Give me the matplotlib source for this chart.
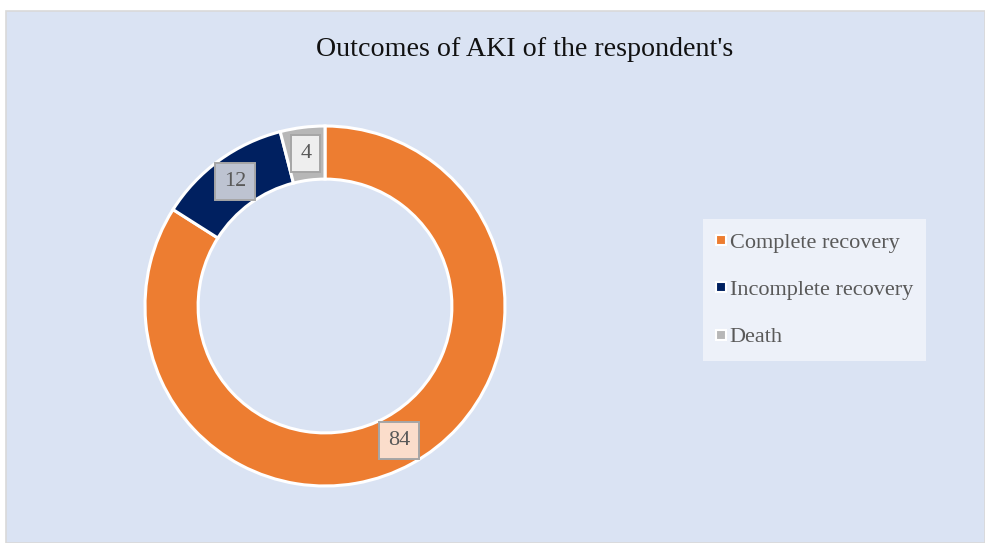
import matplotlib
matplotlib.use("Agg")
import numpy as np
import matplotlib.pyplot as plt
from matplotlib.patches import Rectangle
from matplotlib.lines import Line2D

title = "Outcomes of AKI of the respondent's"
categories = ["Complete recovery", "Incomplete recovery", "Death"]
values = [84, 12, 4]
colors = ["#ED7D31", "#002060", "#B7B7B7"]
label_faces = ["#FBDDCB", "#BDC3D1", "#EEEEEE"]

W, H = 985, 543
fig = plt.figure(figsize=(W / 100, H / 100), dpi=100)
fig.patch.set_facecolor("white")

# chart panel background
panel = Rectangle((6 / W, 0), 1 - 6 / W, (H - 11) / H, transform=fig.transFigure,
                  facecolor="#DAE3F3", edgecolor="#D9D9D9", linewidth=1.2, zorder=-5)
fig.patches.append(panel)

serif = ["Liberation Serif", "DejaVu Serif"]

fig.text(525 / W, 1 - 49 / H, title, ha="center", va="center",
         fontsize=20.2, family=serif, color="#111111")

# donut axes: centre (325, 306) px, outer radius 180 px
cx, cy, R = 325, 306, 180
box = 200
ax = fig.add_axes([(cx - box) / W, (H - cy - box) / H, 2 * box / W, 2 * box / H])
ax.axis("off")
ax.patch.set_alpha(0)

ring = 0.295
wedges, _ = ax.pie(values, colors=colors, startangle=90, counterclock=False,
                   radius=1.0,
                   wedgeprops=dict(width=ring, edgecolor="white", linewidth=2.2))
ax.set_xlim(-box / R, box / R)
ax.set_ylim(-box / R, box / R)

mid_r = 1.0 - ring / 2
for w, v, fc in zip(wedges, values, label_faces):
    ang = np.deg2rad((w.theta1 + w.theta2) / 2)
    ax.text(mid_r * np.cos(ang), mid_r * np.sin(ang), str(v), ha="center", va="center",
            fontsize=16, family=serif, color="#595959",
            bbox=dict(boxstyle="square,pad=0.4", facecolor=fc, edgecolor="#A6A6A6", linewidth=1.4))

handles = [Line2D([], [], linestyle="none", marker="s", markersize=7,
                  markerfacecolor=c, markeredgecolor="white", markeredgewidth=1.5)
           for c in colors]
leg = fig.legend(handles, categories, loc="upper left",
                 bbox_to_anchor=(703 / W, 1 - 219 / H), frameon=True,
                 prop=dict(family=serif, size=16), labelcolor="#595959",
                 handlelength=0.4, handletextpad=0.2, labelspacing=1.2,
                 borderpad=0.6, borderaxespad=0, fancybox=False)
leg.get_frame().set_facecolor("#EDF1F9")
leg.get_frame().set_edgecolor("none")
leg.get_frame().set_alpha(1)

fig.savefig("out.png", dpi=100)
